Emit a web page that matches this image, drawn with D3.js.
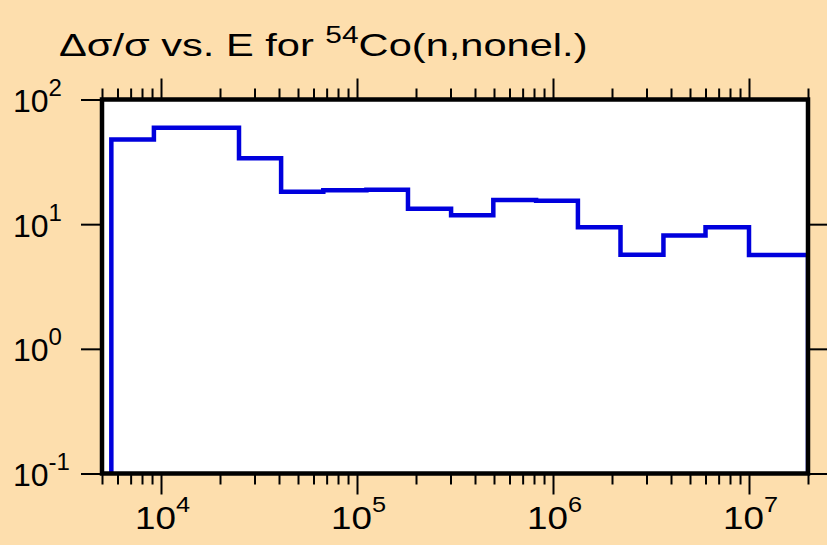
<!DOCTYPE html>
<html>
<head>
<meta charset="utf-8">
<script src="https://cdn.jsdelivr.net/npm/d3@7"></script>
<style>
  html, body { margin: 0; padding: 0; background: #fddead; }
  svg { display: block; }
  text { font-family: "Liberation Sans", Arial, sans-serif; fill: #000; }
</style>
</head>
<body>
<svg id="chart" width="827" height="545"></svg>
<script>
// Relative uncertainty of the 54Co(n,nonel.) cross section, group-wise
const binEdges = [5580, 9200, 25000, 41000, 67300, 111700, 182000, 302000,
                  496000, 820000, 1340000, 2210000, 3660000, 6000000, 10000000, 20000000];
const relUnc = [47.7, 59.3, 33.8, 18.2, 18.75, 18.9, 13.3, 11.8,
                15.6, 15.4, 9.46, 5.68, 8.12, 9.46, 5.65];

const xDomain = [5000, 2e7];
const yDomain = [0.1, 100];
const xMajor = [1e4, 1e5, 1e6, 1e7];
const xMajorExp = ["4", "5", "6", "7"];
const yMajor = [100, 10, 1, 0.1];
const yMajorExp = ["2", "1", "0", "-1"];
const titleMain = "\u0394\u03c3/\u03c3 vs. E for ";
const titleSup = "54";
const titleTail = "Co(n,nonel.)";

const svg = d3.select("#chart");
const plot = { left: 102, right: 808, top: 99.5, bottom: 473.5 };

const x = d3.scaleLog().domain(xDomain).range([plot.left, plot.right]);
const y = d3.scaleLog().domain(yDomain).range([plot.bottom, plot.top]);

// minor ticks: 2..9 in each decade inside the domain
const xMinor = [];
for (let d = 3; d <= 7; d++) {
  for (let m = 2; m <= 9; m++) {
    const v = m * Math.pow(10, d);
    if (v >= xDomain[0] && v <= xDomain[1]) xMinor.push(v);
  }
}

// plot background
svg.append("rect")
  .attr("x", plot.left).attr("y", plot.top)
  .attr("width", plot.right - plot.left).attr("height", plot.bottom - plot.top)
  .attr("fill", "#fff");

// histogram
svg.append("clipPath").attr("id", "clip").append("rect")
  .attr("x", plot.left).attr("y", plot.top)
  .attr("width", plot.right - plot.left).attr("height", plot.bottom - plot.top);

const pts = [[binEdges[0], yDomain[0]]];
relUnc.forEach((v, i) => {
  pts.push([binEdges[i], v]);
  pts.push([binEdges[i + 1], v]);
});
pts.push([binEdges[binEdges.length - 1], yDomain[0]]);

svg.append("path")
  .attr("clip-path", "url(#clip)")
  .attr("d", d3.line().x(d => x(d[0])).y(d => y(d[1]))(pts))
  .attr("fill", "none")
  .attr("stroke", "#0000dd")
  .attr("stroke-width", 4.5)
  .attr("stroke-linejoin", "miter");

// axes: ticks point outward on all four sides
function styleAxis(g) {
  g.select(".domain").remove();
  g.selectAll(".tick line").attr("stroke", "#000").attr("stroke-width", 2);
  g.selectAll(".tick text").remove();
}
const noLabel = () => "";

svg.append("g").attr("transform", `translate(0,${plot.bottom})`)
  .call(d3.axisBottom(x).tickValues(xMinor).tickSize(11).tickFormat(noLabel)).call(styleAxis);
svg.append("g").attr("transform", `translate(0,${plot.bottom})`)
  .call(d3.axisBottom(x).tickValues(xMajor).tickSize(21).tickFormat(noLabel)).call(styleAxis);
svg.append("g").attr("transform", `translate(0,${plot.top})`)
  .call(d3.axisTop(x).tickValues(xMinor).tickSize(11).tickFormat(noLabel)).call(styleAxis);
svg.append("g").attr("transform", `translate(0,${plot.top})`)
  .call(d3.axisTop(x).tickValues(xMajor).tickSize(21).tickFormat(noLabel)).call(styleAxis);
svg.append("g").attr("transform", `translate(${plot.left},0)`)
  .call(d3.axisLeft(y).tickValues(yMajor).tickSize(21).tickFormat(noLabel)).call(styleAxis);
svg.append("g").attr("transform", `translate(${plot.right},0)`)
  .call(d3.axisRight(y).tickValues(yMajor.slice(1)).tickSize(20).tickFormat(noLabel)).call(styleAxis);

// frame
svg.append("rect")
  .attr("x", plot.left).attr("y", plot.top)
  .attr("width", plot.right - plot.left).attr("height", plot.bottom - plot.top)
  .attr("fill", "none").attr("stroke", "#000").attr("stroke-width", 4.5);

// power-of-ten label: "10" with a raised exponent, optionally widened
function powerLabel(px, py, exp, anchor, sx, supSize, supDy) {
  const g = svg.append("g").attr("transform", `translate(${px},${py}) scale(${sx},1)`);
  const t = g.append("text").attr("text-anchor", anchor).attr("font-size", 32);
  t.append("tspan").text("10");
  t.append("tspan").attr("font-size", supSize).attr("dy", supDy).text(exp);
}

// x tick labels
xMajor.forEach((v, i) => powerLabel(x(v) + 1.5, plot.bottom + 55, xMajorExp[i], "middle", 1.15, 22, -17));

// y tick labels
yMajor.forEach((v, i) => powerLabel(13, y(v) + 12.5, yMajorExp[i], "start", 1, 24, -16));

// title, drawn in a widened face
const titleG = svg.append("g").attr("transform", "translate(59,56) scale(1.3,1)");
const title = titleG.append("text").attr("font-size", 32);
title.append("tspan").text(titleMain);
title.append("tspan").attr("font-size", 23).attr("dy", -13.5).text(titleSup);
title.append("tspan").attr("dy", 13.5).text(titleTail);
</script>
</body>
</html>
